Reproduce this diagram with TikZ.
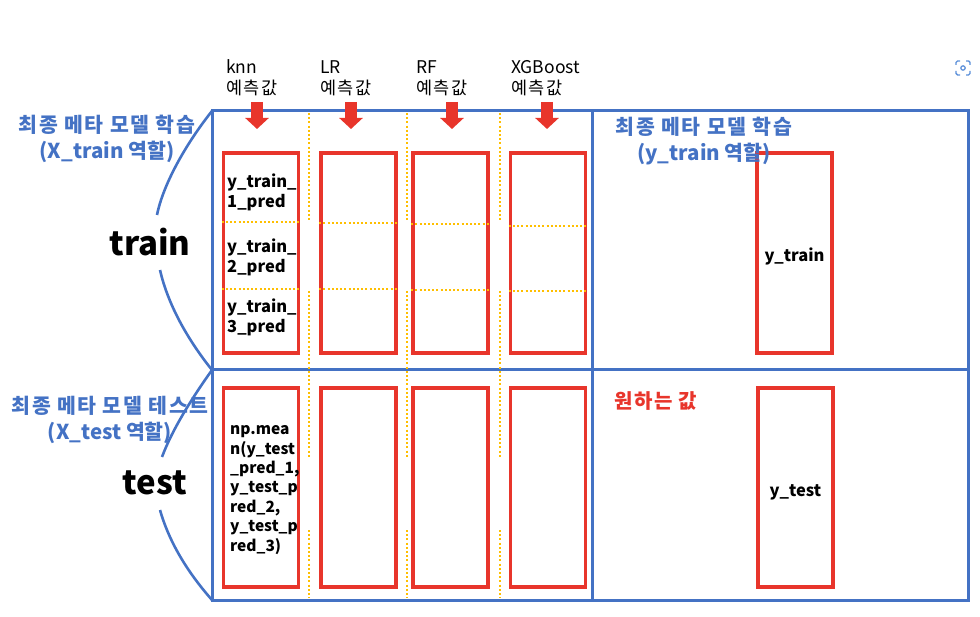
\documentclass[tikz,border=0pt]{standalone}
\usepackage{fontspec}
\setmainfont{Noto Sans CJK KR}
\newfontfamily\krwide[LetterSpace=8]{Noto Sans CJK KR}
\usetikzlibrary{arrows.meta}
\definecolor{frameblue}{HTML}{4472C4}
\definecolor{boxred}{HTML}{E8352B}
\definecolor{dotyellow}{HTML}{FFBF00}
\definecolor{iconblue}{HTML}{5B8FD9}
\tikzset{
  predbox/.style={draw=boxred, line width=3.5pt, minimum width=75pt, minimum height=200pt, inner sep=0pt},
  dotline/.style={dotyellow, line width=2.6pt, dash pattern=on 2pt off 2.2pt},
  bluecurve/.style={frameblue, line width=2.6pt},
  bigarrow/.style={boxred, line width=12pt, -{Triangle[width=23pt,length=11pt]}},
  toplabel/.style={anchor=west, align=left, font=\fontsize{17.5}{21}\selectfont, inner sep=0pt},
  metablue/.style={text=frameblue, align=center, font=\bfseries\fontsize{20.5}{26}\selectfont, inner sep=0pt},
  boxtext/.style={anchor=west, align=left, font=\bfseries\fontsize{16.5}{20}\selectfont, inner sep=0pt},
  bigword/.style={font=\bfseries\fontsize{33}{36}\selectfont, inner sep=0pt}
}
\begin{document}
\begin{tikzpicture}[x=1pt,y=-1pt]
\useasboundingbox (0,0) rectangle (980,617);
% outer frame
\draw[frameblue, line width=3pt] (212,111) rectangle (968,600);
\draw[frameblue, line width=3pt] (212,370) -- (968,370);
\draw[frameblue, line width=3pt] (592,111) -- (592,600);
% yellow dotted separators
\foreach \xx in {309,407,500}{
  \draw[dotline] (\xx,113) -- (\xx,222);
  \draw[dotline] (\xx,291) -- (\xx,458);
  \draw[dotline] (\xx,530) -- (\xx,598);
}
% prediction boxes
\node[predbox] (knnT) at (261,253) {};
\node[predbox] (lrT) at (358.5,253) {};
\node[predbox] (rfT) at (450.5,253) {};
\node[predbox] (xgbT) at (548,253) {};
\node[predbox] (ytrain) at (794.5,253) {};
\node[predbox, minimum height=199pt] (knnS) at (261,487.5) {};
\node[predbox, minimum height=199pt] (lrS) at (358.5,487.5) {};
\node[predbox, minimum height=199pt] (rfS) at (450.5,487.5) {};
\node[predbox, minimum height=199pt] (xgbS) at (548,487.5) {};
\node[predbox, minimum height=199pt] (ytest) at (795.5,487.5) {};
\node[font=\bfseries\fontsize{16.5}{20}\selectfont] (ytrainT) at ([yshift=-3pt]ytrain.center) {y\_train};
\node[font=\bfseries\fontsize{16.5}{20}\selectfont] (ytestT) at ([yshift=-5pt]ytest.center) {y\_test};
% fold lines
\foreach \bx/\ya/\yb in {knnT/222/289, lrT/223/289, rfT/224/290, xgbT/226/291}{
  \draw[dotline] (\bx.west |- 0,\ya) -- (\bx.east |- 0,\ya);
  \draw[dotline] (\bx.west |- 0,\yb) -- (\bx.east |- 0,\yb);
}
\node[boxtext] (f1) at (227,192) {y\_train\_\\1\_pred};
\node[boxtext] (f2) at (227,257) {y\_train\_\\2\_pred};
\node[boxtext] (f3) at (227,317) {y\_train\_\\3\_pred};
\node[boxtext, font=\bfseries\fontsize{15.5}{19.4}\selectfont] (avg) at (230,490) {np.mea\\n(y\_test\\\_pred\_1,\\y\_test\_p\\red\_2,\\y\_test\_p\\red\_3)};
% model labels and arrows
\node[toplabel] (knnL) at (226,78) {knn\\{\krwide 예측값}};
\node[toplabel] (lrL) at (320,78) {LR\\{\krwide 예측값}};
\node[toplabel] (rfL) at (416,78) {RF\\{\krwide 예측값}};
\node[toplabel] (xgbL) at (511,78) {XGBoost\\{\krwide 예측값}};
\foreach \nm/\xx in {knn/257,lr/351,rf/452,xgb/547}{
  \coordinate (\nm A) at (\xx,102);
  \coordinate (\nm B) at (\xx,129);
  \draw[bigarrow] (\nm A) -- (\nm B);
}
% role texts
\node[metablue] (trainX) at (107,139) {{\krwide 최종 메타 모델 학습}\\(X\_train 역할)};
\node[metablue] (trainY) at (704,141) {{\krwide 최종 메타 모델 학습}\\(y\_train 역할)};
\node[metablue] (testX) at (110,420) {{\krwide 최종 메타 모델 테스트}\\(X\_test 역할)};
\node[anchor=west, text=boxred, font=\krwide\bfseries\fontsize{20}{22}\selectfont, inner sep=0pt] (want) at (614,401) {원하는 값};
% braces
\node[bigword] (trainW) at (150,242) {train};
\node[bigword] (testW) at (155,483) {test};
\draw[bluecurve] (212,111) .. controls (185,145) and (163,185) .. (157,215);
\draw[bluecurve] (160,270) .. controls (168,305) and (188,340) .. (212,370);
\draw[bluecurve] (212,370) .. controls (192,398) and (172,430) .. (162,457);
\draw[bluecurve] (160,510) .. controls (170,545) and (190,575) .. (212,600);
% icon
\draw[iconblue, line width=1.4pt, rounded corners=1.5pt]
  (956,65) -- (956,61) -- (960,61) (966,61) -- (970,61) -- (970,65)
  (970,71) -- (970,75) -- (966,75) (960,75) -- (956,75) -- (956,71);
\draw[iconblue, line width=1.2pt] (963,68) circle (2.2pt);
\end{tikzpicture}
\end{document}
